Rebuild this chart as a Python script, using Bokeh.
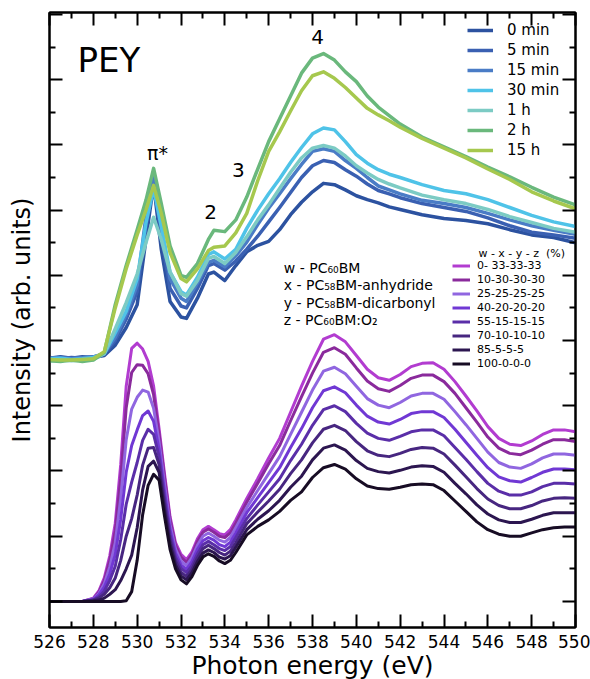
from bokeh.plotting import figure
from bokeh.models import (Range1d, LinearAxis, FixedTicker, Legend, LegendItem,
                          Label, CustomJSTickFormatter)
from bokeh.embed import file_html
from bokeh.resources import INLINE

FONT = "DejaVu Sans"

# ---------------- measured PEY spectra (offset stack, arb. units) ----------------
pey_energy = [526, 526.5, 527, 527.5, 528, 528.5, 529, 529.5, 530, 530.4, 530.75, 531.1,
              531.5, 532, 532.25, 532.75, 533.25, 533.5, 534, 534.5, 535, 535.5, 536,
              536.5, 537, 537.5, 538, 538.5, 539, 539.5, 540, 540.5, 541, 541.5, 542,
              543, 544, 545, 546, 547, 548, 549, 550]

pey_0min = [3.73, 3.75, 3.73, 3.75, 3.74, 3.77, 3.93, 4.20, 4.55, 5.55, 6.40, 5.40,
            4.60, 4.36, 4.34, 4.65, 5.02, 5.05, 4.92, 5.15, 5.36, 5.46, 5.52,
            5.70, 5.93, 6.12, 6.28, 6.41, 6.39, 6.31, 6.22, 6.16, 6.11, 6.05, 6.01,
            5.93, 5.87, 5.84, 5.79, 5.70, 5.62, 5.58, 5.50]
pey_5min = [3.74, 3.72, 3.74, 3.73, 3.75, 3.79, 4.00, 4.33, 4.75, 5.75, 6.46, 5.60,
            4.80, 4.53, 4.50, 4.80, 5.15, 5.18, 5.08, 5.22, 5.40, 5.60, 5.82,
            6.04, 6.27, 6.50, 6.68, 6.76, 6.73, 6.62, 6.52, 6.40, 6.30, 6.25, 6.19,
            6.10, 6.04, 5.98, 5.88, 5.76, 5.66, 5.62, 5.57]
pey_15min = [3.73, 3.74, 3.72, 3.74, 3.75, 3.80, 4.05, 4.40, 4.85, 5.90, 6.50, 5.75,
             4.95, 4.65, 4.60, 4.88, 5.20, 5.23, 5.13, 5.30, 5.51, 5.78, 6.03,
             6.25, 6.48, 6.70, 6.90, 6.94, 6.90, 6.76, 6.64, 6.50, 6.37, 6.31, 6.25,
             6.15, 6.10, 6.04, 5.95, 5.85, 5.76, 5.69, 5.63]
pey_30min = [3.72, 3.73, 3.71, 3.72, 3.74, 3.80, 4.12, 4.45, 4.95, 5.80, 6.33, 5.75,
             5.05, 4.75, 4.70, 4.97, 5.32, 5.36, 5.25, 5.40, 5.72, 6.00, 6.25,
             6.48, 6.73, 6.96, 7.17, 7.26, 7.23, 7.05, 6.85, 6.72, 6.62, 6.55, 6.50,
             6.39, 6.30, 6.25, 6.16, 6.04, 5.92, 5.82, 5.75]
pey_1h = [3.69, 3.70, 3.69, 3.70, 3.71, 3.80, 4.18, 4.58, 5.02, 5.50, 5.89, 5.55,
          5.05, 4.72, 4.68, 4.92, 5.26, 5.29, 5.18, 5.35, 5.59, 5.85, 6.08,
          6.33, 6.58, 6.80, 6.95, 6.99, 6.95, 6.83, 6.68, 6.57, 6.47, 6.40, 6.34,
          6.23, 6.16, 6.10, 6.01, 5.90, 5.81, 5.72, 5.66]
pey_2h = [3.69, 3.68, 3.70, 3.68, 3.70, 3.82, 4.55, 5.15, 5.70, 6.15, 6.64, 6.10,
          5.45, 5.00, 4.97, 5.18, 5.55, 5.69, 5.67, 5.85, 6.20, 6.63, 7.05,
          7.40, 7.75, 8.10, 8.33, 8.40, 8.30, 8.12, 7.97, 7.75, 7.58, 7.45, 7.32,
          7.12, 6.97, 6.82, 6.66, 6.51, 6.35, 6.20, 6.08]
pey_15h = [3.71, 3.70, 3.70, 3.71, 3.72, 3.83, 4.50, 5.10, 5.62, 6.00, 6.38, 5.95,
           5.35, 4.95, 4.90, 5.10, 5.38, 5.43, 5.45, 5.65, 5.95, 6.45, 6.90,
           7.20, 7.52, 7.83, 8.06, 8.12, 8.02, 7.88, 7.72, 7.56, 7.46, 7.37, 7.27,
           7.10, 6.95, 6.80, 6.63, 6.47, 6.28, 6.14, 6.02]

pey_labels = ["0 min", "5 min", "15 min", "30 min", "1 h", "2 h", "15 h"]
pey_series = [pey_0min, pey_5min, pey_15min, pey_30min, pey_1h, pey_2h, pey_15h]
pey_colors = ["#2c52a0", "#3a60b2", "#4a7cc6", "#4fc3e8", "#7ccbc4", "#6ab87c", "#a6c84e"]

# ---------------- simulated mixture spectra (w - x - y - z, %) ----------------
sim_energy = [526, 527.5, 528, 528.25, 528.5, 528.75, 529, 529.25, 529.5, 529.75,
              530, 530.25, 530.5, 530.75, 531, 531.25, 531.5, 531.75, 532, 532.25,
              532.5, 532.75, 533, 533.25, 533.5, 533.75, 534, 534.25, 534.5, 535,
              535.5, 536, 536.5, 537, 537.5, 538, 538.5, 539, 539.5, 540,
              540.5, 541, 541.5, 542, 542.5, 543, 543.5, 544, 544.5, 545,
              545.5, 546, 546.5, 547, 547.5, 548, 548.5, 549, 549.5, 550]

sim_0 = [0, 0, 0.05, 0.16, 0.36, 0.70, 1.20, 2.10, 3.30, 3.88,
         3.96, 3.87, 3.68, 3.30, 2.65, 1.95, 1.30, 0.90, 0.72, 0.64,
         0.76, 0.96, 1.10, 1.15, 1.10, 1.04, 1.02, 1.10, 1.25, 1.58,
         1.88, 2.20, 2.50, 2.90, 3.30, 3.68, 4.02, 4.09, 3.98, 3.77,
         3.56, 3.43, 3.39, 3.48, 3.60, 3.65, 3.66, 3.56, 3.37, 3.15,
         2.92, 2.68, 2.50, 2.41, 2.39, 2.46, 2.56, 2.63, 2.63, 2.60]
sim_10 = [0, 0, 0.04, 0.14, 0.32, 0.63, 1.08, 1.89, 2.97, 3.51,
          3.63, 3.62, 3.49, 3.17, 2.57, 1.89, 1.25, 0.86, 0.68, 0.60,
          0.72, 0.92, 1.06, 1.11, 1.06, 1.00, 0.98, 1.05, 1.20, 1.52,
          1.81, 2.11, 2.39, 2.77, 3.14, 3.50, 3.82, 3.89, 3.79, 3.58,
          3.38, 3.26, 3.22, 3.31, 3.42, 3.47, 3.47, 3.37, 3.19, 2.97,
          2.75, 2.52, 2.35, 2.27, 2.25, 2.32, 2.41, 2.48, 2.48, 2.45]
sim_25 = [0, 0, 0.04, 0.12, 0.27, 0.53, 0.90, 1.58, 2.48, 2.95,
          3.13, 3.24, 3.21, 2.96, 2.45, 1.79, 1.18, 0.80, 0.62, 0.55,
          0.67, 0.86, 1.00, 1.05, 1.00, 0.94, 0.91, 0.98, 1.13, 1.44,
          1.70, 1.96, 2.22, 2.56, 2.90, 3.24, 3.53, 3.59, 3.49, 3.30,
          3.11, 3.01, 2.97, 3.05, 3.15, 3.19, 3.19, 3.10, 2.91, 2.71,
          2.50, 2.29, 2.13, 2.06, 2.04, 2.11, 2.20, 2.26, 2.26, 2.24]
sim_40 = [0, 0, 0.03, 0.10, 0.22, 0.42, 0.72, 1.26, 1.98, 2.39,
          2.63, 2.85, 2.92, 2.76, 2.33, 1.69, 1.10, 0.74, 0.56, 0.49,
          0.61, 0.80, 0.93, 0.98, 0.94, 0.87, 0.84, 0.91, 1.05, 1.36,
          1.59, 1.82, 2.05, 2.36, 2.65, 2.97, 3.23, 3.29, 3.20, 3.01,
          2.84, 2.75, 2.72, 2.79, 2.88, 2.91, 2.91, 2.82, 2.64, 2.44,
          2.24, 2.05, 1.91, 1.85, 1.83, 1.90, 1.98, 2.03, 2.03, 2.02]
sim_55 = [0, 0, 0.02, 0.07, 0.16, 0.32, 0.54, 0.95, 1.49, 1.83,
          2.13, 2.47, 2.64, 2.56, 2.22, 1.59, 1.03, 0.68, 0.51, 0.44,
          0.55, 0.73, 0.87, 0.92, 0.87, 0.81, 0.78, 0.84, 0.98, 1.27,
          1.48, 1.68, 1.88, 2.16, 2.41, 2.70, 2.94, 3.00, 2.91, 2.73,
          2.58, 2.50, 2.47, 2.53, 2.60, 2.63, 2.63, 2.54, 2.36, 2.18,
          1.99, 1.81, 1.69, 1.63, 1.63, 1.68, 1.76, 1.81, 1.81, 1.80]
sim_70 = [0, 0, 0.02, 0.05, 0.11, 0.21, 0.36, 0.63, 1.00, 1.27,
          1.63, 2.09, 2.35, 2.36, 2.10, 1.50, 0.95, 0.62, 0.45, 0.38,
          0.49, 0.67, 0.81, 0.86, 0.81, 0.75, 0.71, 0.77, 0.90, 1.19,
          1.37, 1.54, 1.72, 1.96, 2.17, 2.43, 2.64, 2.70, 2.62, 2.45,
          2.31, 2.24, 2.22, 2.27, 2.33, 2.36, 2.35, 2.26, 2.09, 1.91,
          1.73, 1.57, 1.47, 1.42, 1.42, 1.47, 1.54, 1.58, 1.59, 1.58]
sim_85 = [0, 0, 0.01, 0.02, 0.05, 0.11, 0.18, 0.32, 0.50, 0.71,
          1.13, 1.71, 2.07, 2.15, 1.98, 1.40, 0.88, 0.56, 0.39, 0.33,
          0.44, 0.61, 0.74, 0.79, 0.75, 0.68, 0.65, 0.70, 0.83, 1.10,
          1.26, 1.39, 1.55, 1.75, 1.92, 2.17, 2.35, 2.40, 2.32, 2.16,
          2.04, 1.99, 1.97, 2.01, 2.06, 2.08, 2.07, 1.98, 1.81, 1.65,
          1.48, 1.34, 1.25, 1.21, 1.21, 1.26, 1.32, 1.36, 1.36, 1.36]
sim_100 = [0, 0, 0, 0, 0, 0, 0, 0, 0.01, 0.15,
           0.63, 1.33, 1.78, 1.95, 1.86, 1.30, 0.80, 0.50, 0.33, 0.27,
           0.38, 0.55, 0.68, 0.73, 0.69, 0.62, 0.58, 0.63, 0.75, 1.02,
           1.15, 1.25, 1.38, 1.55, 1.68, 1.90, 2.05, 2.10, 2.03, 1.88,
           1.77, 1.73, 1.72, 1.75, 1.79, 1.80, 1.79, 1.70, 1.54, 1.38,
           1.22, 1.10, 1.03, 1.00, 1.00, 1.05, 1.10, 1.13, 1.14, 1.14]

sim_labels = ["0- 33-33-33", "10-30-30-30", "25-25-25-25", "40-20-20-20",
              "55-15-15-15", "70-10-10-10", "85-5-5-5", "100-0-0-0"]
sim_series = [sim_0, sim_10, sim_25, sim_40, sim_55, sim_70, sim_85, sim_100]
sim_colors = ["#b23cd0", "#8a2a9c", "#9066e0", "#7038d4",
              "#5a2ea8", "#472680", "#2c1650", "#170c24"]

x_major = list(range(526, 551, 2))
x_minor = list(range(527, 550, 2))
y_major = list(range(0, 10))
y_minor = [k + 0.5 for k in range(-1, 9)]

# ---------------- figure ----------------
p = figure(width=590, height=679, x_range=Range1d(526, 550), y_range=Range1d(-0.4, 9.03),
           output_backend="svg", toolbar_location=None,
           min_border_left=49, min_border_right=15, min_border_top=12, min_border_bottom=52)
p.xgrid.visible = False
p.ygrid.visible = False
p.outline_line_color = "black"
p.outline_line_width = 2
p.background_fill_color = "white"
p.border_fill_color = "white"

p.add_layout(LinearAxis(), "above")
p.add_layout(LinearAxis(), "right")


def style_axis(axis, ticks, minor, show_labels):
    axis.ticker = FixedTicker(ticks=ticks, minor_ticks=minor)
    axis.axis_line_width = 2
    axis.axis_line_color = "black"
    axis.major_tick_in = 13
    axis.major_tick_out = 0
    axis.minor_tick_in = 6
    axis.minor_tick_out = 0
    axis.major_tick_line_width = 2
    axis.minor_tick_line_width = 2
    axis.major_tick_line_color = "black"
    axis.minor_tick_line_color = "black"
    if show_labels:
        axis.major_label_text_font = FONT
        axis.major_label_text_font_size = "17px"
        axis.major_label_text_color = "black"
    else:
        axis.formatter = CustomJSTickFormatter(code="return ''")
        axis.major_label_standoff = 0
        axis.major_label_text_font_size = "1px"


style_axis(p.below[0], x_major, x_minor, True)
style_axis(p.above[0], x_major, x_minor, False)
style_axis(p.left[0], y_major, y_minor, False)
style_axis(p.right[0], y_major, y_minor, False)

xa = p.below[0]
xa.major_label_standoff = 7

ya = p.left[0]
ya.axis_label = "Intensity (arb. units)"
ya.axis_label_text_font = FONT
ya.axis_label_text_font_size = "24px"
ya.axis_label_text_font_style = "normal"
ya.axis_label_text_color = "black"
ya.axis_label_standoff = 14

# x-axis title, placed in the panel beneath the frame
p.add_layout(Label(x=538.0, y=-0.99, text="Photon energy (eV)", text_font=FONT,
                   text_font_size="25px", text_align="center", text_baseline="alphabetic",
                   text_color="black"), "below")

# ---------------- curves ----------------
sim_items = []
for lab, ys, col in zip(sim_labels, sim_series, sim_colors):
    r = p.line(sim_energy, ys, line_color=col, line_width=3, line_join="round")
    sim_items.append(LegendItem(label=lab, renderers=[r]))

pey_items = []
for lab, ys, col in zip(pey_labels, pey_series, pey_colors):
    r = p.line(pey_energy, ys, line_color=col, line_width=3.5, line_join="round")
    pey_items.append(LegendItem(label=lab, renderers=[r]))

# ---------------- legends ----------------
leg_pey = Legend(items=pey_items, location=(418, 468))
leg_pey.label_text_font = FONT
leg_pey.label_text_font_size = "15px"
leg_pey.label_text_color = "black"
leg_pey.glyph_width = 26
leg_pey.glyph_height = 18
leg_pey.label_height = 18
leg_pey.spacing = 2
leg_pey.padding = 0
leg_pey.margin = 0
leg_pey.label_standoff = 14
leg_pey.border_line_alpha = 0
leg_pey.background_fill_alpha = 0
p.add_layout(leg_pey)

leg_sim = Legend(items=sim_items, location=(403, 257))
leg_sim.label_text_font = FONT
leg_sim.label_text_font_size = "11px"
leg_sim.label_text_color = "black"
leg_sim.glyph_width = 18
leg_sim.glyph_height = 13
leg_sim.label_height = 13
leg_sim.spacing = 1
leg_sim.padding = 0
leg_sim.margin = 0
leg_sim.label_standoff = 7
leg_sim.border_line_alpha = 0
leg_sim.background_fill_alpha = 0
p.add_layout(leg_sim)

# ---------------- annotations ----------------
def add_text(x, y, txt, size, align="left", baseline="alphabetic"):
    p.add_layout(Label(x=x, y=y, text=txt, text_font=FONT, text_font_size=size,
                       text_align=align, text_baseline=baseline, text_color="black"))


add_text(527.28, 8.30, "PEY", "34px")
add_text(530.93, 6.87, "π*", "19px", "center", "middle")
add_text(533.35, 5.97, "2", "20px", "center", "middle")
add_text(534.62, 6.61, "3", "20px", "center", "middle")
add_text(538.23, 8.65, "4", "20px", "center", "middle")

add_text(536.69, 5.118, "w - PC₆₀BM", "14px")
add_text(536.69, 4.847, "x - PC₅₈BM-anhydride", "14px")
add_text(536.69, 4.575, "y - PC₅₈BM-dicarbonyl", "14px")
add_text(536.69, 4.310, "z - PC₆₀BM:O₂", "14px")

add_text(545.57, 5.337, "w - x - y - z \u00a0(%)", "11px")

open("out.html", "w").write(file_html(p, INLINE))
